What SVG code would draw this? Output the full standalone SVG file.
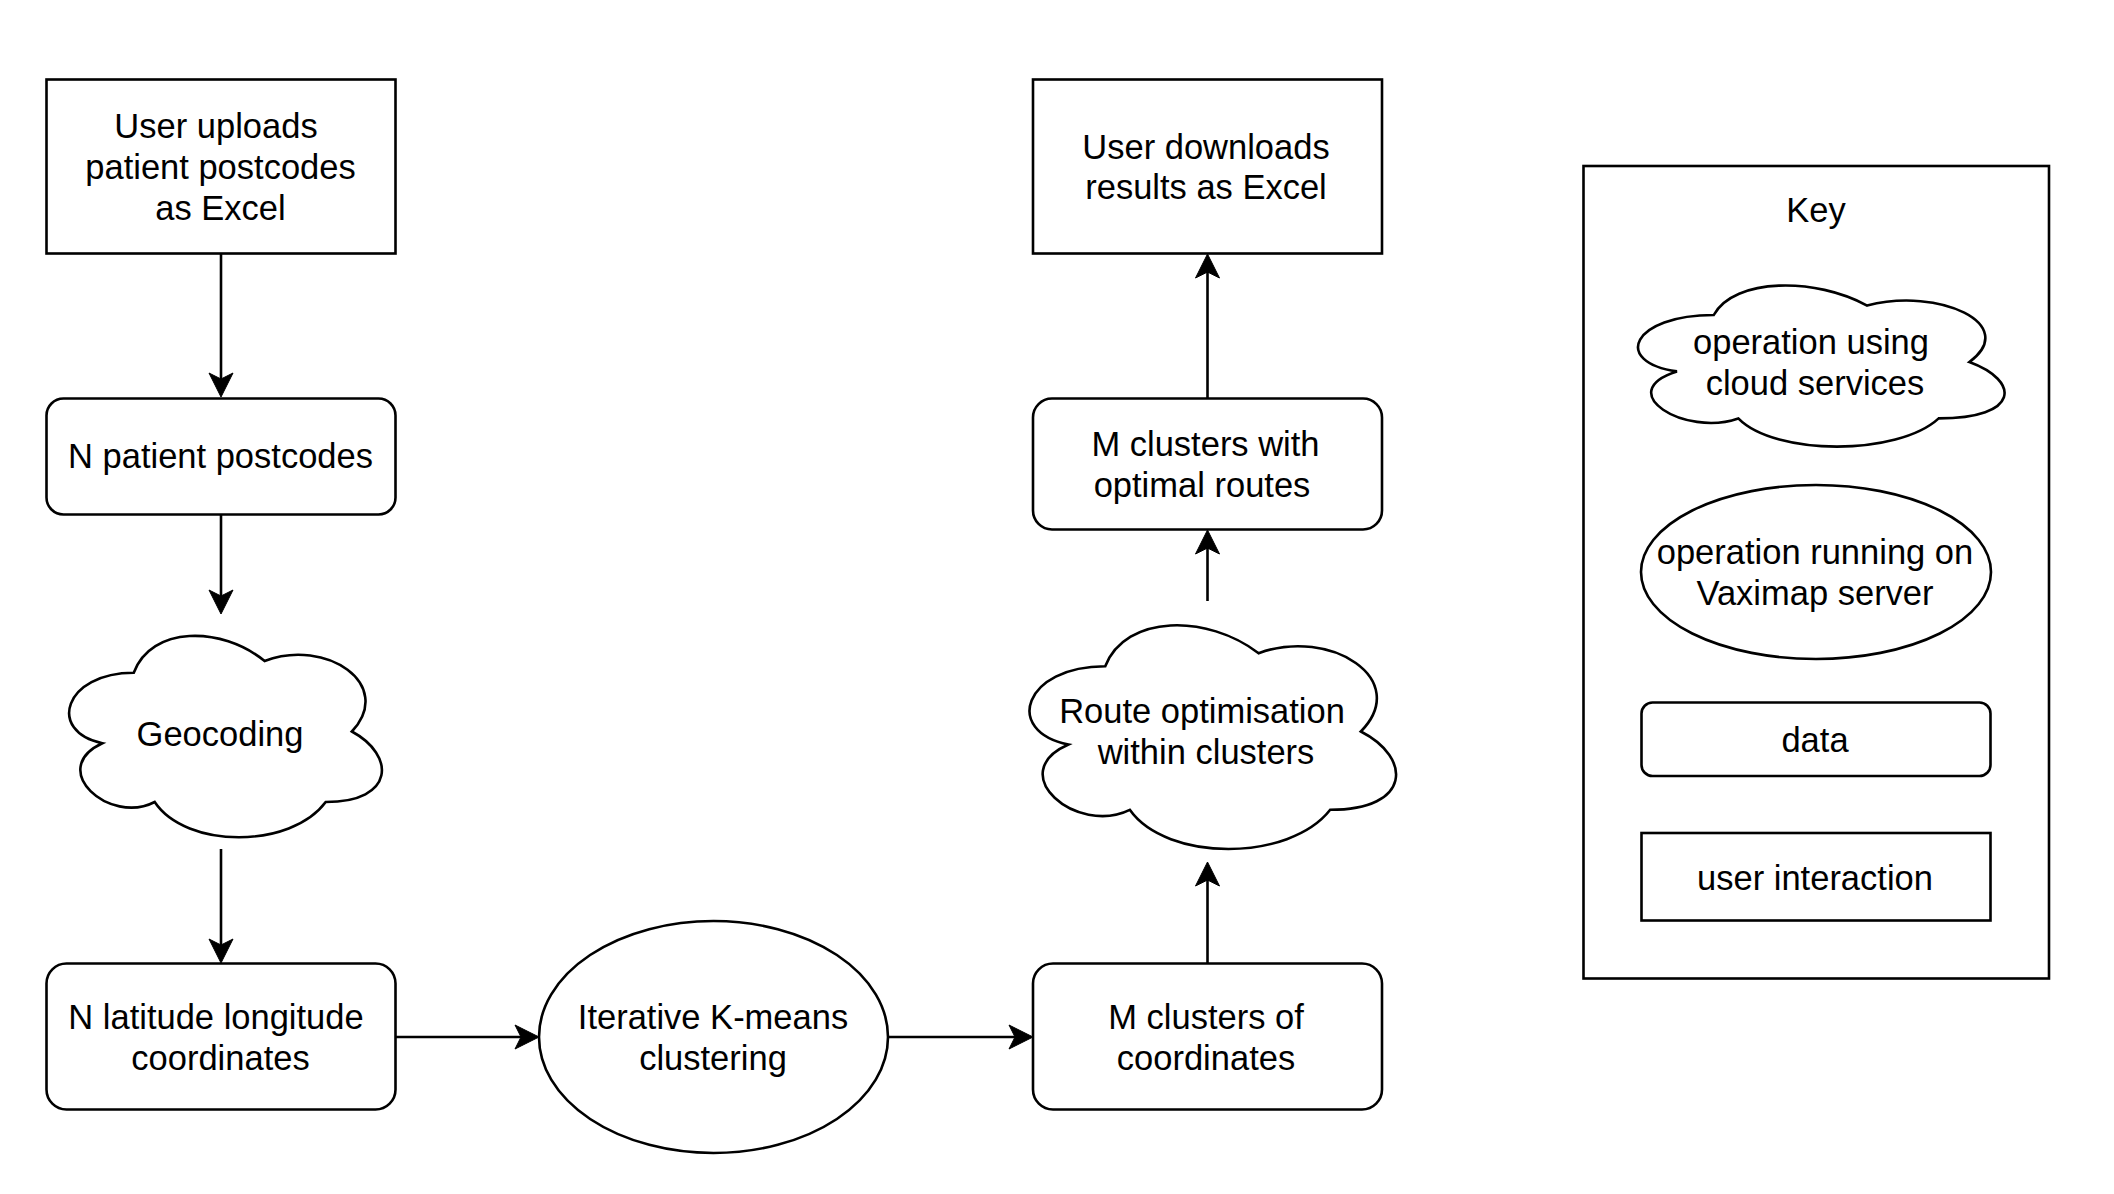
<svg xmlns="http://www.w3.org/2000/svg" width="2114" height="1194" viewBox="0 0 2114 1194">
<style>
.s{fill:#fff;stroke:#000;stroke-width:2.6}
.t{font-family:"Liberation Sans",Arial,Helvetica,sans-serif;font-size:34.5px;fill:#000;text-anchor:middle}
.c{fill:none;stroke:#000;stroke-width:2.6;marker-end:url(#ah)}
</style>
<defs>
<marker id="ah" viewBox="-25 -13 26 26" refX="-18" refY="0" markerWidth="26" markerHeight="26" markerUnits="userSpaceOnUse" orient="auto">
<path d="M0,0 L-24,-12 L-18,0 L-24,12 Z" fill="#000" stroke="#000" stroke-width="1"/>
</marker>
</defs>
<rect width="2114" height="1194" fill="#fff"/>
<g id="connectors">
<path class="c" d="M221,253.5 V379"/>
<path class="c" d="M221,514.5 V596"/>
<path class="c" d="M221,849 V945"/>
<path class="c" d="M395.5,1037 H521"/>
<path class="c" d="M888,1037 H1015"/>
<path class="c" d="M1207.5,963.5 V880"/>
<path class="c" d="M1207.5,601 V548"/>
<path class="c" d="M1207.5,398.5 V272"/>
</g>
<g id="upload">
<rect class="s" x="46.5" y="79.5" width="349" height="174"/>
<text class="t" x="216" y="137.5">User uploads</text>
<text class="t" x="220.5" y="178.5">patient postcodes</text>
<text class="t" x="220.5" y="219.5">as Excel</text>
</g>
<g id="postcodes">
<rect class="s" x="46.5" y="398.5" width="349" height="116" rx="17"/>
<text class="t" x="220.5" y="468">N patient postcodes</text>
</g>
<g id="geocoding">
<path class="s" d="M133.75,672.75 C63.95,672.75 46.5,731.5 102.34,743.25 C46.5,769.1 109.32,825.5 154.69,802 C186.1,849 290.8,849 325.7,802 C395.5,802 395.5,755 351.875,731.5 C395.5,684.5 325.7,637.5 264.625,661 C221,625.75 151.2,625.75 133.75,672.75 Z"/>
<text class="t" x="220" y="746">Geocoding</text>
</g>
<g id="latlong">
<rect class="s" x="46.5" y="963.5" width="349" height="146" rx="20"/>
<text class="t" x="216" y="1028.5">N latitude longitude</text>
<text class="t" x="220.5" y="1069.5">coordinates</text>
</g>
<g id="kmeans">
<ellipse class="s" cx="713.5" cy="1037" rx="174.5" ry="116"/>
<text class="t" x="713" y="1028.5">Iterative K-means</text>
<text class="t" x="713" y="1069.5">clustering</text>
</g>
<g id="clusters">
<rect class="s" x="1033" y="963.5" width="349" height="146" rx="20"/>
<text class="t" x="1206" y="1028.5">M clusters of</text>
<text class="t" x="1206" y="1069.5">coordinates</text>
</g>
<g id="route">
<path class="s" d="M1105.25,666.25 C1023.45,666.25 1003,731.5 1068.44,744.55 C1003,773.26 1076.62,835.9 1129.79,809.8 C1166.6,862 1289.3,862 1330.2,809.8 C1412,809.8 1412,757.6 1360.875,731.5 C1412,679.3 1330.2,627.1 1258.625,653.2 C1207.5,614.05 1125.7,614.05 1105.25,666.25 Z"/>
<text class="t" x="1202" y="723">Route optimisation</text>
<text class="t" x="1206" y="764">within clusters</text>
</g>
<g id="routes">
<rect class="s" x="1033" y="398.5" width="349" height="131" rx="19"/>
<text class="t" x="1205.5" y="456">M clusters with</text>
<text class="t" x="1202" y="497">optimal routes</text>
</g>
<g id="download">
<rect class="s" x="1033" y="79.5" width="349" height="174"/>
<text class="t" x="1206" y="158.5">User downloads</text>
<text class="t" x="1206" y="199">results as Excel</text>
</g>
<g id="key">
<rect class="s" x="1583.5" y="166" width="465.5" height="812.5"/>
<text class="t" x="1816" y="221.5">Key</text>
<path class="s" d="M1713.75,315 C1631.95,315 1611.5,362 1676.94,371.4 C1611.5,392.08 1685.12,437.2 1738.29,418.4 C1775.1,456 1897.8,456 1938.7,418.4 C2020.5,418.4 2020.5,380.8 1969.375,362 C2020.5,324.4 1938.7,286.8 1867.125,305.6 C1816,277.4 1734.2,277.4 1713.75,315 Z"/>
<text class="t" x="1811" y="353.5">operation using</text>
<text class="t" x="1815" y="395">cloud services</text>
<ellipse class="s" cx="1816" cy="572" rx="175" ry="87"/>
<text class="t" x="1815" y="563.5">operation running on</text>
<text class="t" x="1815" y="605">Vaximap server</text>
<rect class="s" x="1641.5" y="702.5" width="349" height="73.5" rx="11"/>
<text class="t" x="1815" y="752">data</text>
<rect class="s" x="1641.5" y="833" width="349" height="87.5"/>
<text class="t" x="1815" y="889.5">user interaction</text>
</g>
</svg>
